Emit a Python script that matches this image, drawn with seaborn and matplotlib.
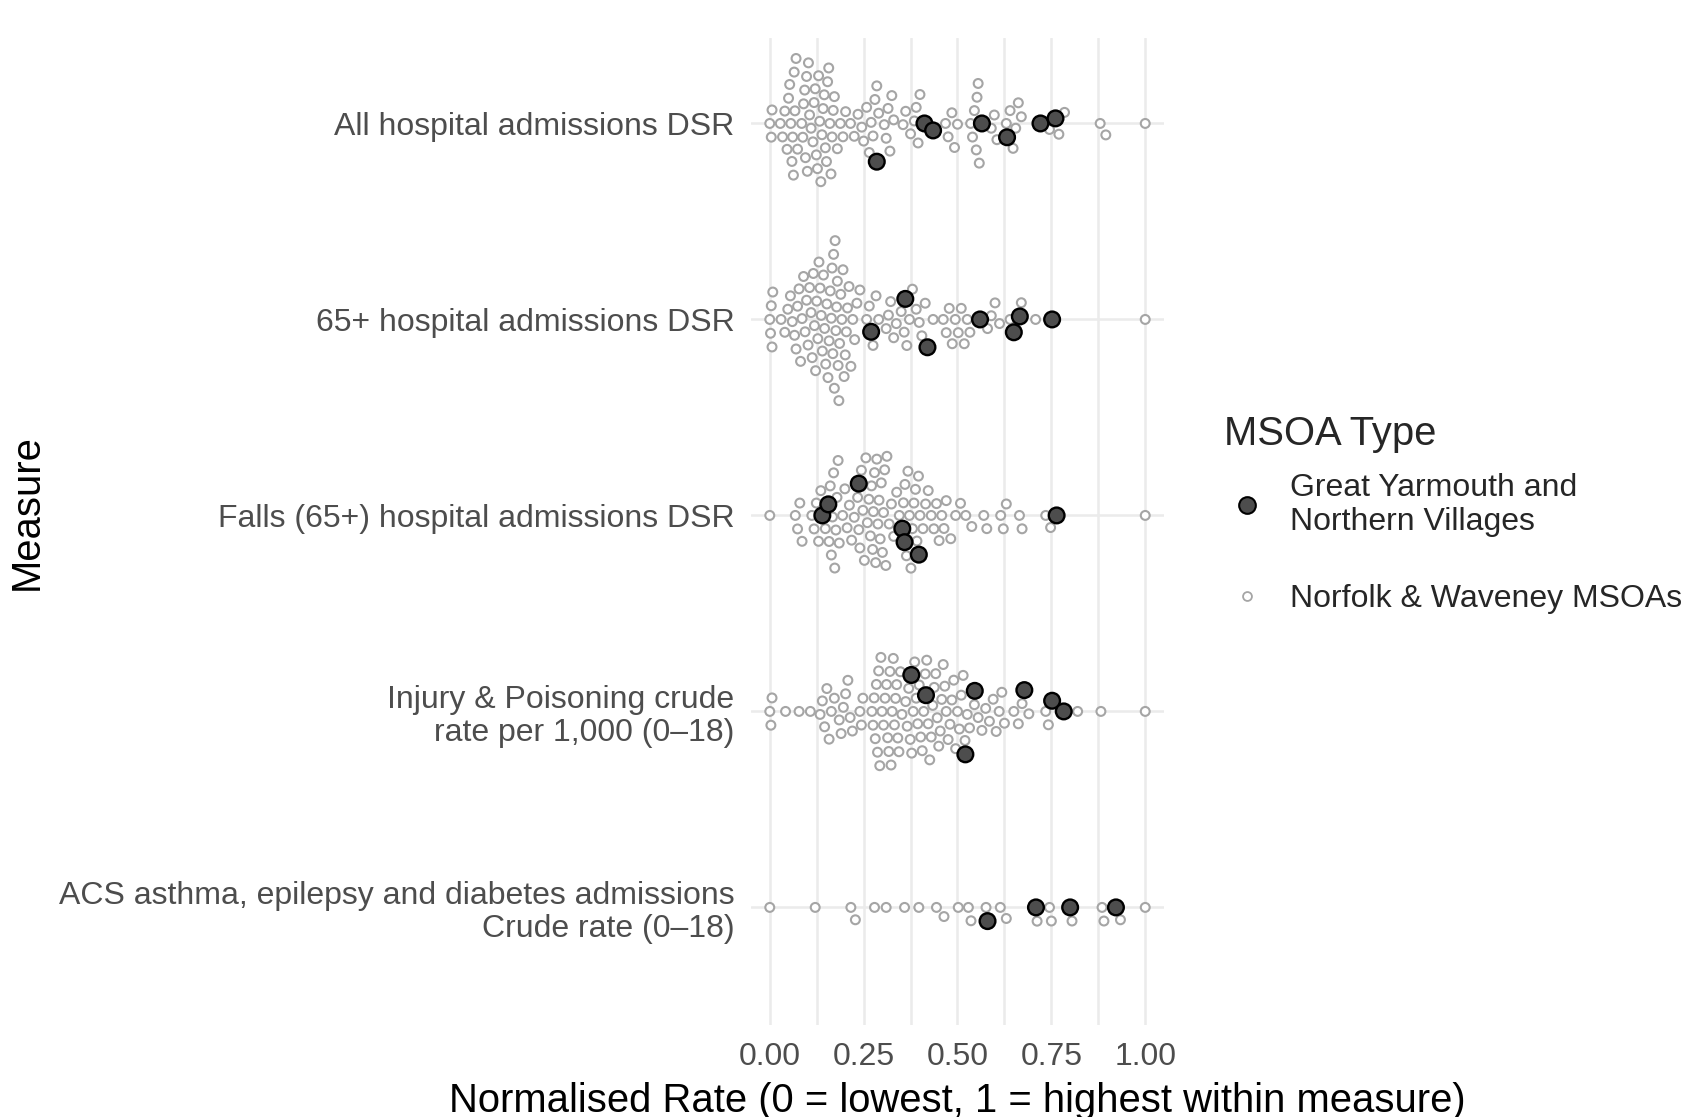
import numpy as np
import pandas as pd
import matplotlib
matplotlib.use("Agg")
import matplotlib.pyplot as plt
from matplotlib.lines import Line2D
from matplotlib.colors import to_rgba
import seaborn as sns

measures = [
    "All hospital admissions DSR",
    "65+ hospital admissions DSR",
    "Falls (65+) hospital admissions DSR",
    "Injury & Poisoning crude\nrate per 1,000 (0\u201318)",
    "ACS asthma, epilepsy and diabetes admissions\nCrude rate (0\u201318)",
]
gy_label = "Great Yarmouth and\nNorthern Villages"
nw_label = "Norfolk & Waveney MSOAs"

# normalised rates, Norfolk & Waveney MSOAs
nw_all_adm = [
    0.000, 0.004, 0.006, 0.028, 0.034, 0.040,
    0.046, 0.050, 0.053, 0.056, 0.059, 0.061, 0.063, 0.065, 0.067, 0.070, 0.074,
    0.085, 0.088, 0.090, 0.093, 0.095, 0.098, 0.100, 0.103, 0.106, 0.110,
    0.115, 0.118, 0.121, 0.124, 0.127, 0.130, 0.133, 0.136, 0.139, 0.142,
    0.145, 0.148, 0.151, 0.154, 0.157, 0.160, 0.163, 0.166, 0.169, 0.172,
    0.180, 0.188, 0.195, 0.202,
    0.215, 0.225, 0.235, 0.245, 0.250, 0.258,
    0.265, 0.270, 0.275, 0.280, 0.285, 0.290,
    0.305, 0.310, 0.315, 0.320, 0.325, 0.330,
    0.355, 0.362, 0.375, 0.385, 0.390, 0.395, 0.400,
    0.468, 0.475, 0.485, 0.492, 0.500,
    0.535, 0.540, 0.545, 0.550, 0.552, 0.555, 0.558,
    0.590, 0.598, 0.605,
    0.630, 0.640, 0.648, 0.655, 0.662, 0.670,
    0.745, 0.770, 0.785, 0.880, 0.895, 1.000,
]
nw_65_adm = [
    0.000, 0.002, 0.004, 0.006, 0.008,
    0.030, 0.040, 0.048, 0.055, 0.060,
    0.066, 0.070, 0.074, 0.078, 0.082, 0.086, 0.090, 0.094, 0.098, 0.102, 0.106,
    0.110, 0.113,
    0.116, 0.119, 0.122, 0.125, 0.128, 0.131, 0.134, 0.137, 0.140, 0.143, 0.146,
    0.149, 0.152, 0.155, 0.158, 0.161,
    0.164, 0.166, 0.168, 0.170, 0.172, 0.174, 0.176, 0.178, 0.180, 0.182, 0.184, 0.186,
    0.189, 0.192, 0.195, 0.198, 0.201, 0.204, 0.207,
    0.211, 0.216, 0.221, 0.226, 0.232, 0.240,
    0.258, 0.265, 0.275, 0.283, 0.290,
    0.310, 0.316, 0.322, 0.330, 0.337,
    0.350, 0.358, 0.365, 0.372, 0.380, 0.390, 0.398, 0.405, 0.414, 0.435,
    0.462, 0.470, 0.478, 0.486, 0.494, 0.502, 0.510, 0.518, 0.526, 0.533,
    0.580, 0.590, 0.600, 0.612, 0.640, 0.670, 0.708, 1.000,
]
nw_falls = [
    0.000, 0.068, 0.074, 0.080, 0.086,
    0.112, 0.118, 0.124, 0.130, 0.136, 0.148,
    0.158, 0.161, 0.164, 0.167, 0.170, 0.173, 0.176, 0.179, 0.182, 0.185,
    0.194, 0.200, 0.206, 0.212, 0.218, 0.225,
    0.234, 0.237, 0.240, 0.244, 0.248, 0.252, 0.256, 0.260, 0.264, 0.268, 0.271, 0.274,
    0.276, 0.279, 0.282, 0.285, 0.288, 0.291, 0.294, 0.297, 0.300, 0.303, 0.306, 0.309,
    0.312, 0.318, 0.324, 0.330, 0.338, 0.345,
    0.356, 0.360, 0.364, 0.368, 0.372, 0.376, 0.380, 0.384, 0.388, 0.392, 0.396, 0.400,
    0.408, 0.415, 0.422, 0.430, 0.437, 0.444, 0.451, 0.458, 0.464, 0.470,
    0.482, 0.495, 0.508, 0.522, 0.538,
    0.570, 0.578, 0.615, 0.622, 0.630, 0.665, 0.672, 0.735, 0.748, 1.000,
]
nw_injury = [
    0.000, 0.003, 0.006, 0.042, 0.078, 0.108,
    0.134, 0.140, 0.146, 0.152, 0.158, 0.164, 0.172,
    0.185, 0.190, 0.196, 0.202, 0.208, 0.214, 0.220,
    0.240, 0.244, 0.248,
    0.272, 0.275, 0.278, 0.281, 0.284, 0.287, 0.290, 0.293, 0.296, 0.299, 0.303, 0.307,
    0.311, 0.314, 0.317, 0.320, 0.323, 0.326, 0.329, 0.332, 0.335, 0.338, 0.341, 0.344,
    0.348, 0.352,
    0.362, 0.366, 0.370, 0.374, 0.378, 0.382, 0.386, 0.390, 0.394, 0.398, 0.402, 0.406,
    0.410, 0.414,
    0.418, 0.422, 0.426, 0.430, 0.434, 0.438, 0.442, 0.446, 0.450, 0.454, 0.458, 0.462,
    0.466, 0.470,
    0.475, 0.480, 0.485, 0.490, 0.495, 0.500, 0.505, 0.510, 0.515, 0.520, 0.526, 0.532,
    0.545, 0.555, 0.565, 0.575, 0.585, 0.595, 0.603, 0.611, 0.618, 0.625,
    0.650, 0.662, 0.672, 0.690, 0.735, 0.742, 0.820, 0.882, 1.000,
]
nw_acs = [
    0.000, 0.121, 0.216, 0.228, 0.279, 0.310, 0.359, 0.397, 0.444, 0.464,
    0.502, 0.529, 0.536, 0.576, 0.614, 0.630, 0.712, 0.745, 0.750, 0.805,
    0.885, 0.890, 0.934, 1.000,
]

# normalised rates, Great Yarmouth and Northern Villages MSOAs
gy_all_adm = [0.285, 0.412, 0.435, 0.565, 0.632, 0.721, 0.761]
gy_65_adm = [0.270, 0.361, 0.420, 0.560, 0.650, 0.666, 0.752]
gy_falls = [0.140, 0.156, 0.237, 0.353, 0.359, 0.397, 0.764]
gy_injury = [0.377, 0.416, 0.521, 0.546, 0.678, 0.752, 0.783]
gy_acs = [0.580, 0.709, 0.800, 0.922]

nw_values = [nw_all_adm, nw_65_adm, nw_falls, nw_injury, nw_acs]
gy_values = [gy_all_adm, gy_65_adm, gy_falls, gy_injury, gy_acs]

rows = []
for m, vals in zip(measures, nw_values):
    rows += [(m, v, nw_label) for v in vals]
for m, vals in zip(measures, gy_values):
    rows += [(m, v, gy_label) for v in vals]
df = pd.DataFrame(rows, columns=["measure", "rate", "type"])

sns.set_theme(style="white")
plt.rcParams["font.family"] = ["Liberation Sans", "DejaVu Sans"]

grid_col = "#ebebeb"
ring_col = "#a5a5a5"
gy_fill = "#4d4d4d"

fig = plt.figure(figsize=(16.9, 11.17), dpi=100)
ax = fig.add_axes([751 / 1690, 92 / 1117, 413 / 1690, 987 / 1117])

sns.swarmplot(data=df, x="rate", y="measure", hue="type", order=measures,
              hue_order=[gy_label, nw_label],
              palette={gy_label: gy_fill, nw_label: "white"},
              size=6.0, linewidth=1.2, edgecolor=ring_col, legend=False, ax=ax)

ax.set_xlim(-0.05, 1.05)
ax.set_ylim(4.6, -0.436)
ax.set_xticks([0, 0.25, 0.5, 0.75, 1.0])
ax.set_xticklabels(["0.00", "0.25", "0.50", "0.75", "1.00"])
ax.set_xticks([0.125, 0.375, 0.625, 0.875], minor=True)
ax.grid(True, which="major", axis="both", color=grid_col, linewidth=1.8)
ax.grid(True, which="minor", axis="x", color=grid_col, linewidth=1.8)
ax.yaxis.grid(True, color=grid_col, linewidth=1.8)
ax.set_axisbelow(True)
for s in ax.spines.values():
    s.set_visible(False)
ax.tick_params(axis="both", which="both", length=0, labelsize=23, labelcolor="#4d4d4d")
ax.tick_params(axis="y", pad=12)
ax.tick_params(axis="x", pad=12.5)
for t in ax.get_yticklabels():
    t.set_linespacing(1.15)

ax.set_xlabel("Normalised Rate (0 = lowest, 1 = highest within measure)",
              fontsize=28.8, color="black")
ax.xaxis.set_label_coords(0.5, -0.058)
ax.set_ylabel("Measure", fontsize=28.8, color="black")
ax.yaxis.set_label_coords(-1.708, 0.52)

# swarm is laid out at draw time with equal sizes, then frozen, stretched
# vertically (ggbeeswarm-like spacing) and restyled
fig.canvas.draw()
for coll in ax.collections:
    if "draw" in coll.__dict__:
        del coll.draw
    off = coll.get_offsets().copy()
    center = np.round(off[:, 1])
    off[:, 1] = center + (off[:, 1] - center) * 1.32
    coll.set_offsets(off)
    fc = coll.get_facecolors()
    n = len(off)
    if len(fc) != n:
        fc = np.repeat(fc[:1], n, axis=0)
    is_gy = fc[:, 0] < 0.5
    coll.set_sizes(np.where(is_gy, 11.3 ** 2, 6.4 ** 2))
    coll.set_edgecolors(np.where(is_gy[:, None], to_rgba("black"), to_rgba(ring_col)))
    coll.set_linewidths(np.where(is_gy, 1.7, 1.5))

handles = [
    Line2D([], [], marker="o", linestyle="none", markersize=12,
           markerfacecolor=gy_fill, markeredgecolor="black", markeredgewidth=1.5),
    Line2D([], [], marker="o", linestyle="none", markersize=6.4,
           markerfacecolor="white", markeredgecolor=ring_col, markeredgewidth=1.3),
]
leg = fig.legend(handles, [gy_label, nw_label], loc="upper left",
                 bbox_to_anchor=(1224 / 1690, 1 - 473 / 1117), frameon=False,
                 borderpad=0, borderaxespad=0, labelspacing=1.46,
                 handlelength=1.44, handletextpad=0.625, fontsize=23)
for t in leg.get_texts():
    t.set_linespacing(1.18)
fig.text(1224 / 1690, 1 - 434 / 1117, "MSOA Type", fontsize=28.8,
         ha="left", va="center")

fig.savefig("out.png", dpi=100)
